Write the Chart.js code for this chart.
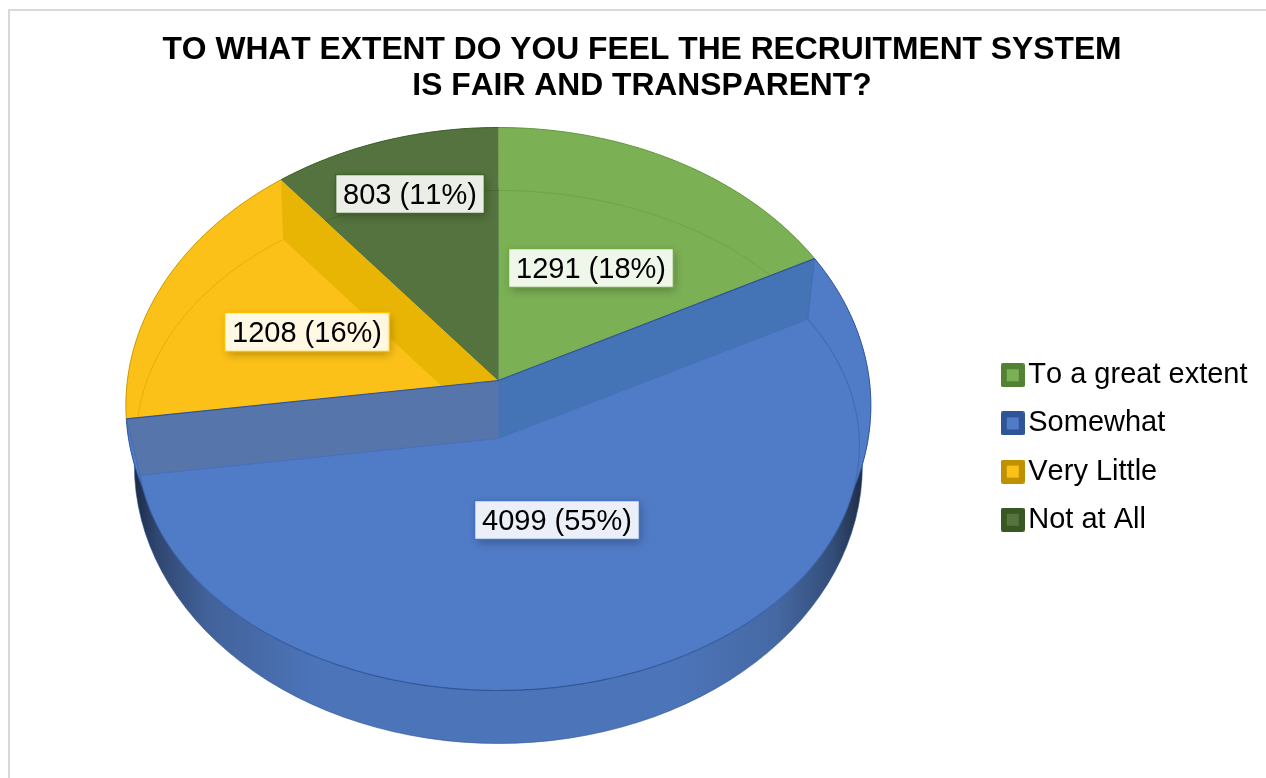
<!DOCTYPE html>
<html><head><meta charset="utf-8">
<script src="https://cdn.jsdelivr.net/npm/chart.js@4"></script>
<style>html,body{margin:0;padding:0;background:#fff;overflow:hidden}canvas{display:block}</style>
</head><body><canvas id="c" width="1266" height="778"></canvas>
<script>
const titleLines = ['TO WHAT EXTENT DO YOU FEEL THE RECRUITMENT SYSTEM', 'IS FAIR AND TRANSPARENT?'];
const categories = ['To a great extent', 'Somewhat', 'Very Little', 'Not at All'];
const values = [1291, 4099, 1208, 803];
const percents = ['18%', '55%', '16%', '11%'];
const topColors = ['#7cb055', '#507bc6', '#fcc118', '#54733e'];
const sideColors = ['#7cb055', '#507bc6', '#e9b505', '#54733e'];
const edgeColors = ['#5f9a3a', '#2f5597', '#c99a05', '#3f5c2b'];
const boxBorders = ['#70ad47', '#4472c4', '#ffc000', '#43682b'];
const swatchOuter = ['#548235', '#2f5597', '#bf9000', '#385723'];
const labelCentres = [[591, 268], [557, 520], [307, 332], [410, 194]];

const FONT = '"Liberation Sans", Arial, sans-serif';
const TILT = 0.75, SINK = 58;
// Perspective ellipses for the tilted disc, relative to the pie's centre.
const outerEll = {dy: 25, a: 372.5, b: 278};
const innerEll = {dy: 60, a: 362, b: 250};
const faceEll = {dy: 65, a: 361, b: 245};
const rimEll = {dy: 85, a: 364, b: 278};

function hit(ax, ay, th, cx, e) {
  const dx = Math.sin(th), dy = -TILT * Math.cos(th);
  const ox = (ax - cx) / e.a, oy = (ay - e.cy) / e.b;
  const px = dx / e.a, py = dy / e.b;
  const A = px * px + py * py, B = 2 * (ox * px + oy * py), C = ox * ox + oy * oy - 1;
  const t = (-B + Math.sqrt(B * B - 4 * A * C)) / (2 * A);
  return [ax + t * dx, ay + t * dy];
}
function arcPts(ax, ay, t0, t1, cx, e) {
  const n = Math.max(2, Math.ceil(Math.abs(t1 - t0) / 0.01)), out = [];
  for (let i = 0; i <= n; i++) out.push(hit(ax, ay, t0 + (t1 - t0) * i / n, cx, e));
  return out;
}
function path(ctx, pts, close) {
  ctx.beginPath();
  pts.forEach((p, i) => i ? ctx.lineTo(p[0], p[1]) : ctx.moveTo(p[0], p[1]));
  if (close) ctx.closePath();
}

const pie3d = {
  id: 'pie3d',
  beforeUpdate(chart) { chart.ctx.fontKerning = 'none'; },
  beforeLayout(chart) { chart.ctx.fontKerning = 'none'; },
  beforeDraw(chart) {
    const ctx = chart.ctx;
    ctx.fontKerning = 'none';
    ctx.save();
    ctx.strokeStyle = '#d9d9d9'; ctx.lineWidth = 2;
    ctx.beginPath(); ctx.moveTo(9, 778); ctx.lineTo(9, 10); ctx.lineTo(1266, 10); ctx.stroke();
    ctx.restore();
  },
  afterLayout(chart) {
    chart.legend.top += 238;
    chart.titleBlock.left += 22.3;
  },
  beforeDatasetDraw() { return false; },
  afterDatasetsDraw(chart) {
    const ctx = chart.ctx, arcs = chart.getDatasetMeta(0).data;
    const cx = arcs[0].x, cy = arcs[0].y, sunk = cy + SINK;
    const outer = {...outerEll, cy: cy + outerEll.dy};
    const inner = {...innerEll, cy: cy + innerEll.dy};
    const face = {...faceEll, cy: cy + faceEll.dy};
    const rim = {...rimEll, cy: cy + rimEll.dy};
    const span = el => [el.startAngle + Math.PI / 2, el.endAngle + Math.PI / 2];
    ctx.save();
    ctx.lineJoin = 'round';

    // outer side of the large sunken slice
    const g = ctx.createLinearGradient(cx - rim.a, 0, cx + rim.a, 0);
    g.addColorStop(0, '#1d2b45'); g.addColorStop(0.03, '#2f4670'); g.addColorStop(0.1, '#426299');
    g.addColorStop(0.25, '#4c74b9'); g.addColorStop(0.75, '#4c74b9'); g.addColorStop(0.88, '#4669a4');
    g.addColorStop(0.96, '#334d78'); g.addColorStop(1, '#1f2d45');
    ctx.fillStyle = g;
    ctx.beginPath(); ctx.ellipse(cx, rim.cy, rim.a, rim.b, 0, 0, Math.PI * 2); ctx.fill();
    ctx.strokeStyle = 'rgba(47,85,151,.6)'; ctx.lineWidth = 1;
    ctx.beginPath(); ctx.ellipse(cx, rim.cy, rim.a, rim.b, 0, 0, Math.PI); ctx.stroke();

    // the slices at their rim height
    arcs.forEach((el, i) => {
      const [t0, t1] = span(el);
      const sector = [[cx, cy], ...arcPts(cx, cy, t0, t1, cx, outer)];
      path(ctx, sector, true); ctx.fillStyle = sideColors[i]; ctx.fill();
      ctx.save();
      path(ctx, sector, true); ctx.clip();
      const a = hit(cx, sunk, t0, cx, inner), b = hit(cx, sunk, t1, cx, inner);
      const ring = [[cx, sunk], b, hit(cx, cy, t1, cx, outer),
        ...arcPts(cx, cy, t1, t0, cx, outer), a];
      path(ctx, ring, true); ctx.fillStyle = topColors[i]; ctx.fill();
      if (i !== 1) {
        path(ctx, arcPts(cx, sunk, t0, t1, cx, inner), false);
        ctx.strokeStyle = edgeColors[i]; ctx.globalAlpha = 0.45; ctx.lineWidth = 1; ctx.stroke();
      }
      ctx.restore();
      path(ctx, arcPts(cx, cy, t0, t1, cx, outer), false);
      ctx.strokeStyle = edgeColors[i]; ctx.lineWidth = 1; ctx.stroke();
    });

    // the large slice: inner walls, then its sunken face
    const big = arcs[1], [s, e] = span(big);
    const walls = [[s, '#4474b5'], [e, '#5575ab']];
    walls.forEach(([t, col]) => {
      const o = hit(cx, cy, t, cx, outer), f = hit(cx, sunk, t, cx, face);
      path(ctx, [[cx, cy], o, f, [cx, sunk]], true); ctx.fillStyle = col; ctx.fill();
    });
    path(ctx, [[cx, sunk], ...arcPts(cx, sunk, s, e, cx, face)], true);
    ctx.fillStyle = topColors[1]; ctx.fill();
    path(ctx, arcPts(cx, sunk, s, e, cx, face), false);
    const fs = ctx.createLinearGradient(0, cy - 70, 0, face.cy + face.b);
    fs.addColorStop(0, 'rgba(61,100,170,.7)'); fs.addColorStop(0.7, 'rgba(61,100,170,.7)'); fs.addColorStop(1, '#2f5597');
    ctx.strokeStyle = fs; ctx.lineWidth = 1.2; ctx.stroke();
    walls.forEach(([t]) => {
      const o = hit(cx, cy, t, cx, outer), f = hit(cx, sunk, t, cx, face);
      path(ctx, [[cx, cy], o], false); ctx.strokeStyle = '#2f5597'; ctx.lineWidth = 1.2; ctx.stroke();
      path(ctx, [[cx, sunk], f], false); ctx.strokeStyle = 'rgba(70,110,190,.9)'; ctx.lineWidth = 1; ctx.stroke();
      path(ctx, [o, f], false); ctx.strokeStyle = 'rgba(61,100,170,.6)'; ctx.lineWidth = 1; ctx.stroke();
    });
    ctx.restore();

    // data labels
    arcs.forEach((el, i) => {
      const text = values[i] + ' (' + percents[i] + ')';
      ctx.save();
      ctx.font = '29px ' + FONT;
      const w = ctx.measureText(text).width + 15, h = 39;
      const [lx, ly] = labelCentres[i];
      const x = lx - w / 2, y = ly - h / 2;
      ctx.save();
      ctx.beginPath(); ctx.rect(0, 0, 1266, 778); ctx.rect(x, y, w, h); ctx.clip('evenodd');
      ctx.shadowColor = 'rgba(0,0,0,.28)'; ctx.shadowBlur = 9; ctx.shadowOffsetX = 2; ctx.shadowOffsetY = 3;
      ctx.fillStyle = '#000'; ctx.fillRect(x, y, w, h);
      ctx.restore();
      ctx.fillStyle = 'rgba(255,255,255,.88)'; ctx.fillRect(x, y, w, h);
      ctx.strokeStyle = boxBorders[i]; ctx.lineWidth = 1.5; ctx.strokeRect(x, y, w, h);
      ctx.fillStyle = '#000'; ctx.textAlign = 'center'; ctx.textBaseline = 'middle';
      ctx.fillText(text, lx, ly + 2);
      ctx.restore();
    });
  }
};

function swatch(i) {
  const s = document.createElement('canvas'); s.width = s.height = 24;
  const c = s.getContext('2d');
  c.fillStyle = swatchOuter[i]; c.beginPath(); c.roundRect(0, 0, 24, 24, 2); c.fill();
  c.fillStyle = topColors[i]; c.fillRect(6, 6, 12, 12);
  return s;
}
const swatches = categories.map((_, i) => swatch(i));

new Chart(document.getElementById('c'), {
  type: 'pie',
  data: { labels: categories, datasets: [{ data: values, backgroundColor: topColors, borderWidth: 0, radius: 371 }] },
  plugins: [pie3d],
  options: {
    responsive: false, animation: false,
    layout: { padding: { left: 4.2, right: 8.5, top: 0, bottom: 121 } },
    plugins: {
      tooltip: { enabled: false },
      title: { display: true, text: titleLines, color: '#000', position: 'top',
        font: { family: FONT, size: 31.8, weight: 'bold', lineHeight: 36 / 31.8 }, padding: { top: 32, bottom: 0 } },
      legend: { display: true, position: 'right',
        labels: { color: '#000', font: { family: FONT, size: 29 }, usePointStyle: true, pointStyleWidth: 2,
          boxHeight: 24, padding: 19.2,
          generateLabels: chart => Chart.overrides.doughnut.plugins.legend.labels.generateLabels(chart)
            .map((l, i) => ({ ...l, pointStyle: swatches[i] })) } }
    }
  }
});
</script></body></html>
